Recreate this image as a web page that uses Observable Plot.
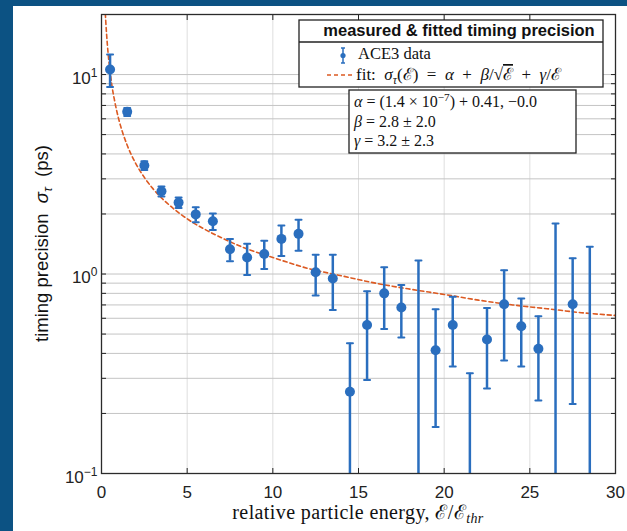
<!DOCTYPE html>
<html><head><meta charset="utf-8">
<script src="https://cdn.jsdelivr.net/npm/d3@7"></script>
<script src="https://cdn.jsdelivr.net/npm/@observablehq/plot@0.6"></script>
<style>
html,body{margin:0;padding:0;background:#0c5283;width:627px;height:531px;overflow:hidden}
#panel{position:absolute;left:13px;top:6px;width:614px;height:525px;background:#fff}
</style></head><body><div id="panel"></div>
<script>
// ---- data ----
const energy    = [0.5,1.5,2.5,3.5,4.5,5.5,6.5,7.5,8.5,9.5,10.5,11.5,12.5,13.5,14.5,15.5,16.5,17.5,18.5,19.5,20.5,21.5,22.5,23.5,24.5,25.5,26.5,27.5,28.5];
const sigma     = [10.6,6.5,3.5,2.6,2.28,1.99,1.84,1.33,1.21,1.26,1.50,1.59,1.02,0.95,0.257,0.555,0.80,0.68,null,0.415,0.555,null,0.47,0.705,0.547,0.422,null,0.705,null];
const sigmaLow  = [8.65,6.2,3.32,2.45,2.14,1.82,1.66,1.16,0.99,1.06,1.23,1.31,0.78,0.66,0.05,0.294,0.53,0.48,0.05,0.171,0.344,0.05,0.267,0.369,0.344,0.232,0.05,0.223,0.05];
const sigmaHigh = [12.6,6.8,3.68,2.75,2.42,2.16,2.01,1.50,1.42,1.47,1.75,1.87,1.25,1.25,0.45,0.82,1.08,0.88,1.17,0.665,0.77,0.318,0.676,1.045,0.754,0.615,1.79,1.20,1.37];
const fitEnergy = [0.2,0.25,0.3,0.4,0.5,0.6,0.75,1,1.25,1.5,2,2.5,3,3.5,4,5,6,7,8,9,10,12,14,16,18,20,22,24,26,28,30];
const fitSigma  = [22,18.4,15.8,12.4,10.4,8.9,7.5,6.0,5.07,4.42,3.58,3.05,2.68,2.41,2.2,1.89,1.68,1.52,1.39,1.29,1.21,1.07,0.98,0.90,0.84,0.79,0.74,0.70,0.67,0.64,0.62];
const xTicks = [0,5,10,15,20,25,30];
const yMinorTicks = [0.2,0.3,0.4,0.5,0.6,0.7,0.8,0.9,1,2,3,4,5,6,7,8,9,10,20];
const yMajorTicks = [0.1,1,10];

const rows = energy.map((e,i)=>({e, s: sigma[i], lo: sigmaLow[i], hi: sigmaHigh[i]}));
const fitRows = fitEnergy.map((e,i)=>({e, s: fitSigma[i]}));

const BLUE = "#2a6ebe", RED = "#dc5a22";
const cap = {draw(ctx, l){ ctx.moveTo(0,0); ctx.lineTo(0,-l); }};

const W=614,H=525,mL=88,mR=12,mT=8,mB=58;
const svgEl = Plot.plot({
  width:W, height:H, marginLeft:mL, marginRight:mR, marginTop:mT, marginBottom:mB,
  style:{fontFamily:"'Liberation Sans', Arial, sans-serif", fontSize:"17px", color:"#222", background:"white"},
  x:{domain:[0,30]},
  y:{type:"log", domain:[0.1,20]},
  marks:[
    Plot.gridX(xTicks.slice(1,-1), {stroke:"#dedede", strokeOpacity:1}),
    Plot.gridY(yMinorTicks, {stroke:"#c4c4c4", strokeOpacity:1}),
    Plot.line(fitRows, {x:"e", y:"s", stroke:RED, strokeWidth:1.6, strokeDasharray:"4,3", curve:"monotone-x", clip:true}),
    Plot.ruleX(rows, {x:"e", y1:"lo", y2:"hi", stroke:BLUE, strokeWidth:2.5, clip:true}),
    Plot.vector(rows, {x:"e", y:"hi", rotate:90, length:6, anchor:"middle", shape:cap, stroke:BLUE, strokeWidth:2, clip:true}),
    Plot.vector(rows, {x:"e", y:"lo", rotate:90, length:6, anchor:"middle", shape:cap, stroke:BLUE, strokeWidth:2, clip:true}),
    Plot.dot(rows, {x:"e", y:"s", r:5, fill:BLUE}),
    Plot.axisX(xTicks, {anchor:"bottom", tickSize:-5, tickFormat:()=>"", label:null, stroke:"#222"}),
    Plot.axisX(xTicks, {anchor:"bottom", tickSize:0, tickPadding:12, label:null, fill:"#222"}),
    Plot.axisX(xTicks, {anchor:"top", tickSize:-5, tickFormat:()=>"", label:null, stroke:"#222"}),
    Plot.axisY(yMinorTicks, {anchor:"left", tickSize:-5, tickFormat:()=>"", label:null, stroke:"#222"}),
    Plot.axisY(yMinorTicks, {anchor:"right", tickSize:-5, tickFormat:()=>"", label:null, stroke:"#222"}),
    Plot.axisY(yMajorTicks, {anchor:"left", tickSize:0, tickPadding:4, dy:4, label:null, fill:"#222",
      tickFormat:d=>{const p=Math.round(Math.log10(d)); return p<0 ? "\u2212"+(-p) : String(p);}}),
    Plot.frame({stroke:"#2b2b2b", strokeWidth:1.3})
  ]
});
document.getElementById("panel").appendChild(svgEl);
const svg = d3.select(svgEl);

// exponent labels 10^n
svg.selectAll('g[aria-label="y-axis tick label"] text').each(function(){
  const e = this.textContent;
  if (!e) return;
  const t = d3.select(this); t.text("");
  t.append("tspan").text("10");
  t.append("tspan").attr("dy",-7).attr("font-size",12).text(e);
});

function rich(parent, x, y, parts, o){
  const t = parent.append("text").attr("x",x).attr("y",y)
    .attr("font-family", o.family).attr("font-size", o.size).attr("fill", o.fill||"#111")
    .attr("text-anchor", o.anchor || "start");
  if (o.weight) t.attr("font-weight", o.weight);
  if (o.ls) t.attr("letter-spacing", o.ls);
  if (o.transform) t.attr("transform", o.transform).attr("x",0).attr("y",0);
  let shift = 0;
  for (const p of parts){
    const ts = t.append("tspan").text(p.t);
    const target = p.sub ? 4 : p.sup ? -6 : 0;
    if (target !== shift){ ts.attr("dy", target - shift); shift = target; }
    if (p.i) ts.attr("font-style","italic");
    if (p.sub || p.sup) ts.attr("font-size", o.size*0.7);
    if (p.o) ts.style("text-decoration","overline");
  }
  return t;
}
const SERIF = "'Liberation Serif','DejaVu Serif',serif";
const SANS = "'Liberation Sans',Arial,sans-serif";
const E = "\u2130";

// axis titles
rich(svg, 345, 513, [{t:"relative particle energy, "},{t:E},{t:"/"},{t:E},{t:"thr",i:1,sub:1}], {family:SERIF,size:20,anchor:"middle",ls:0.4});
rich(svg, 0, 0, [{t:"timing precision  "},{t:"\u03C3",i:1},{t:"\u03C4",i:1,sub:1},{t:"  (ps)"}], {family:SANS,size:18.5,anchor:"middle",transform:"translate(35,237.5) rotate(-90)"});

// legend box
const lg = svg.append("g");
lg.append("rect").attr("x",286).attr("y",14).attr("width",304).attr("height",67).attr("fill","white").attr("stroke","#222").attr("stroke-width",1.3);
lg.append("line").attr("x1",286).attr("x2",590).attr("y1",36).attr("y2",36).attr("stroke","#222").attr("stroke-width",1.3);
lg.append("text").attr("x",446).attr("y",30).attr("text-anchor","middle").attr("font-family",SANS).attr("font-weight","bold").attr("font-size",16.5).attr("fill","#111").text("measured & fitted timing precision");
lg.append("line").attr("x1",330).attr("x2",330).attr("y1",42).attr("y2",57).attr("stroke",BLUE).attr("stroke-width",1.5);
lg.append("line").attr("x1",328).attr("x2",332).attr("y1",42).attr("y2",42).attr("stroke",BLUE).attr("stroke-width",1.5);
lg.append("line").attr("x1",328).attr("x2",332).attr("y1",57).attr("y2",57).attr("stroke",BLUE).attr("stroke-width",1.5);
lg.append("circle").attr("cx",330).attr("cy",49.5).attr("r",2.6).attr("fill",BLUE);
rich(lg, 345, 53, [{t:"ACE3 data"}], {family:SERIF,size:16.5});
lg.append("line").attr("x1",314).attr("x2",341).attr("y1",69).attr("y2",69).attr("stroke",RED).attr("stroke-width",1.6).attr("stroke-dasharray","4,3");
rich(lg, 343, 74, [{t:"fit:  "},{t:"\u03C3",i:1},{t:"\u03C4",i:1,sub:1},{t:"("},{t:E},{t:")  =  "},{t:"\u03B1",i:1},{t:"  +  "},{t:"\u03B2",i:1},{t:"/\u221A"},{t:E,o:1},{t:"  +  "},{t:"\u03B3",i:1},{t:"/"},{t:E}], {family:SERIF,size:17});

// parameter box
const pb = svg.append("g");
pb.append("rect").attr("x",336).attr("y",84).attr("width",227).attr("height",63).attr("fill","white").attr("stroke","#222").attr("stroke-width",1.3);
rich(pb, 341, 101, [{t:"\u03B1",i:1},{t:" = (1.4 \u00D7 10"},{t:"\u22127",sup:1},{t:") + 0.41, \u22120.0"}], {family:SERIF,size:16});
rich(pb, 341, 121, [{t:"\u03B2",i:1},{t:" = 2.8 \u00B1 2.0"}], {family:SERIF,size:16});
rich(pb, 341, 140, [{t:"\u03B3",i:1},{t:" = 3.2 \u00B1 2.3"}], {family:SERIF,size:16});
</script></body></html>
